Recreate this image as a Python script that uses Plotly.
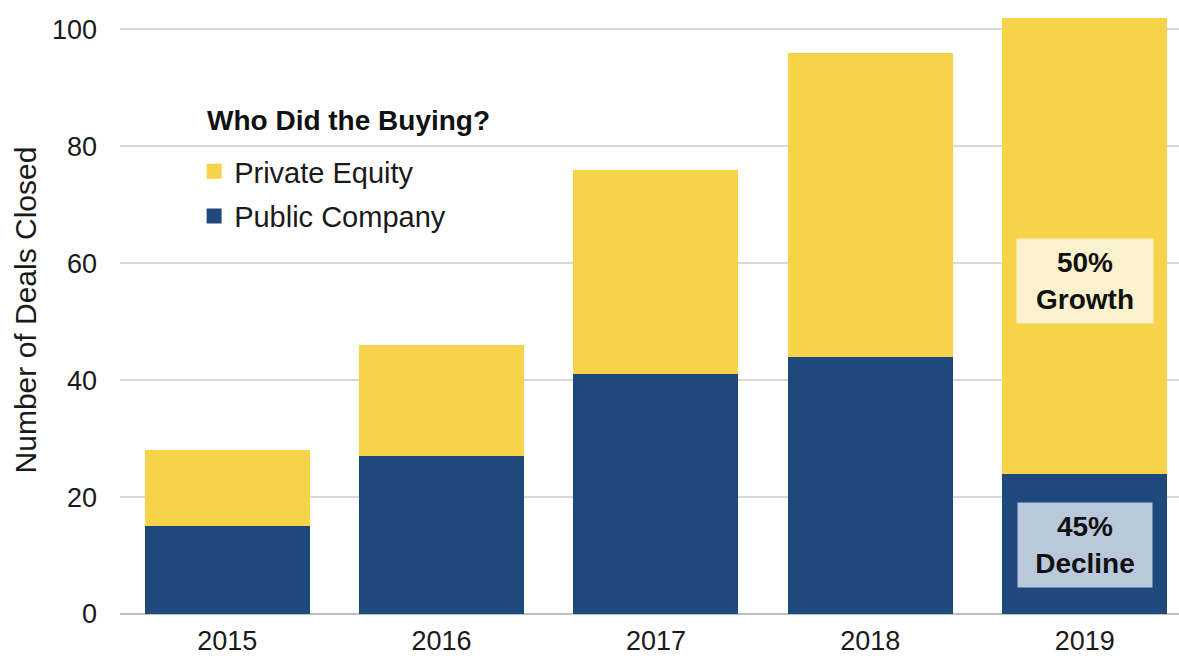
import plotly.graph_objects as go

years = ["2015", "2016", "2017", "2018", "2019"]
public_company = [15, 27, 41, 44, 24]
private_equity = [13, 19, 35, 52, 78]

YELLOW = "#F7D34A"
NAVY = "#1F497D"
FONT = "Liberation Sans, Arial, sans-serif"
TXT = "#1A1A1A"

fig = go.Figure()
fig.add_trace(go.Bar(x=years, y=public_company, name="Public Company",
                     marker=dict(color=NAVY, line=dict(width=0)),
                     showlegend=False))
fig.add_trace(go.Bar(x=years, y=private_equity, name="Private Equity",
                     marker=dict(color=YELLOW, line=dict(width=0)),
                     showlegend=False))

# legend keys drawn as square markers
fig.add_trace(go.Scatter(x=[None], y=[None], mode="markers", name="Private Equity",
                         marker=dict(symbol="square", size=15, color=YELLOW),
                         legendgroup="pe", legendrank=1))
fig.add_trace(go.Scatter(x=[None], y=[None], mode="markers", name="Public Company",
                         marker=dict(symbol="square", size=15, color=NAVY),
                         legendgroup="pub", legendrank=2))

# white panel behind the legend block, hiding the gridlines there
fig.add_shape(type="rect", xref="paper", yref="paper", layer="between",
              x0=0.02, x1=0.383, y0=0.62, y1=0.87,
              fillcolor="white", line=dict(width=0))

fig.add_annotation(xref="paper", yref="paper", x=0.080, y=0.811,
                   xanchor="left", yanchor="middle", showarrow=False,
                   text="<b>Who Did the Buying?</b>",
                   font=dict(family=FONT, size=28, color="#111111"))

# change callouts on the 2019 bar
growth = (private_equity[4] - private_equity[3]) / private_equity[3]
decline = (public_company[3] - public_company[4]) / public_company[3]
fig.add_annotation(xref="x", yref="y", x=4, y=57,
                   text=f"<b>{growth:.0%}<br>Growth</b>",
                   showarrow=False, bgcolor="#FBF1CC", width=136, height=84,
                   borderpad=0, font=dict(family=FONT, size=28, color="#111111"))
fig.add_annotation(xref="x", yref="y", x=4, y=11.8,
                   text=f"<b>{decline:.0%}<br>Decline</b>",
                   showarrow=False, bgcolor="#B9C8DA", width=134, height=84,
                   borderpad=0, font=dict(family=FONT, size=28, color="#111111"))

fig.update_layout(
    barmode="stack",
    bargap=0.23,
    width=1179, height=658,
    margin=dict(l=120, r=0, t=6, b=44),
    paper_bgcolor="white", plot_bgcolor="white",
    font=dict(family=FONT, size=27, color=TXT),
    legend=dict(
        x=0.07, y=0.77, xanchor="left", yanchor="top",
        traceorder="grouped", tracegroupgap=4,
        font=dict(size=29, color=TXT),
        bgcolor="rgba(0,0,0,0)", itemwidth=30,
    ),
    xaxis=dict(range=[-0.5, 4.44], showgrid=False, showline=False, ticks="",
               ticklabelstandoff=8,
               tickfont=dict(size=27, color=TXT)),
    yaxis=dict(range=[0, 104], tickvals=[0, 20, 40, 60, 80, 100],
               showgrid=True, gridcolor="#D9D9D9", gridwidth=1.5,
               zeroline=True, zerolinecolor="#BFBFBF", zerolinewidth=1.5,
               ticks="", ticklen=0, ticklabelstandoff=22,
               tickfont=dict(size=27, color=TXT),
               title=dict(text="Number of Deals Closed", standoff=6,
                          font=dict(size=30, color=TXT))),
)

fig.write_html("out.html")
